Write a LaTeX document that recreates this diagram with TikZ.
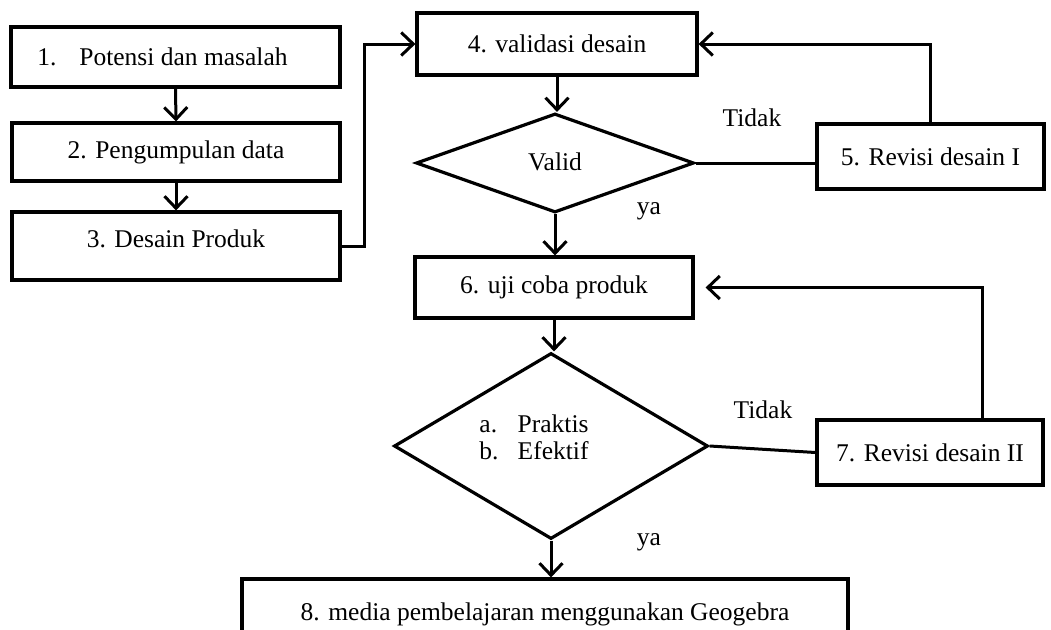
\documentclass[tikz,border=0pt]{standalone}
\usepackage{fontspec}
\setmainfont{Liberation Serif}
\usetikzlibrary{shapes.geometric,arrows.meta,calc}
\begin{document}
\begin{tikzpicture}[x=1pt,y=-1pt,
  every node/.style={font=\fontsize{25.5}{30}\selectfont},
  box/.style={draw,line width=3.2pt,rectangle,inner sep=0pt},
  dia/.style={draw,line width=3.2pt,diamond,inner sep=0pt},
  conn/.style={line width=3pt},
  arr/.style={conn,-{Straight Barb[length=12pt,width=23pt]}},
  lbl/.style={inner sep=0pt}]
\useasboundingbox (0,0) rectangle (1051,629);

\node[box,minimum width=329,minimum height=60] (b1) at (175.5,57) {1.\hspace{0.9em}Potensi dan masalah\kern26pt\relax};
\node[box,minimum width=328,minimum height=58] (b2) at (176,152) {2. Pengumpulan data};
\node[box,minimum width=328,minimum height=68,text depth=14pt] (b3) at (176,246) {3. Desain Produk};
\node[box,minimum width=280,minimum height=62] (b4) at (557,44) {4. validasi desain};
\node[dia,minimum width=278,minimum height=99] (d1) at (555,163) {};
\node[lbl] (t1) at (555,162) {Valid};
\node[box,minimum width=227,minimum height=65] (b5) at (930.5,156.5) {5. Revisi desain I};
\node[box,minimum width=278,minimum height=61] (b6) at (554,287.5) {6. uji coba produk};
\node[dia,minimum width=314,minimum height=186] (d2) at (551,446) {};
\node[lbl] (t2) at (534,440) {\begin{tabular}{@{}l@{\hspace{0.75em}}l@{}}a.&Praktis\\[-3pt] b.&Efektif\end{tabular}};
\node[box,minimum width=226,minimum height=65] (b7) at (930,452.5) {7. Revisi desain II};
\node[box,minimum width=606,minimum height=71] (b8) at (545,614.5) {8. media pembelajaran menggunakan Geogebra};

\node[lbl] (ld1) at (752,118) {Tidak};
\node[lbl] (ly1) at (649,211) {ya};
\node[lbl] (ld2) at (763,410) {Tidak};
\node[lbl] (ly2) at (649,542) {ya};

\coordinate (c7) at ($(b7.north west)!0.73!(b7.north east)$);
\coordinate (c6) at ($(b6.east)+(11,0)$);

\draw[arr] (b1.south) -- (b2.north);
\draw[arr] (b2.south) -- (b3.north);
\draw[arr] (b3.east) -- ++(23,0) |- (b4.west);
\draw[arr] (b4.south) -- (b4.south |- d1.north);
\draw[conn] (d1.east) -- (d1.east -| b5.west);
\draw[arr] (b5.north) |- (b4.east);
\draw[arr] (d1.south) -- (d1.south |- b6.north);
\draw[arr] (b6.south) -- (b6.south |- d2.north);
\draw[conn] (d2.east) -- (b7.west);
\draw[arr] (c7) |- (c6);
\draw[arr] (d2.south) -- (d2.south |- b8.north);
\end{tikzpicture}
\end{document}
